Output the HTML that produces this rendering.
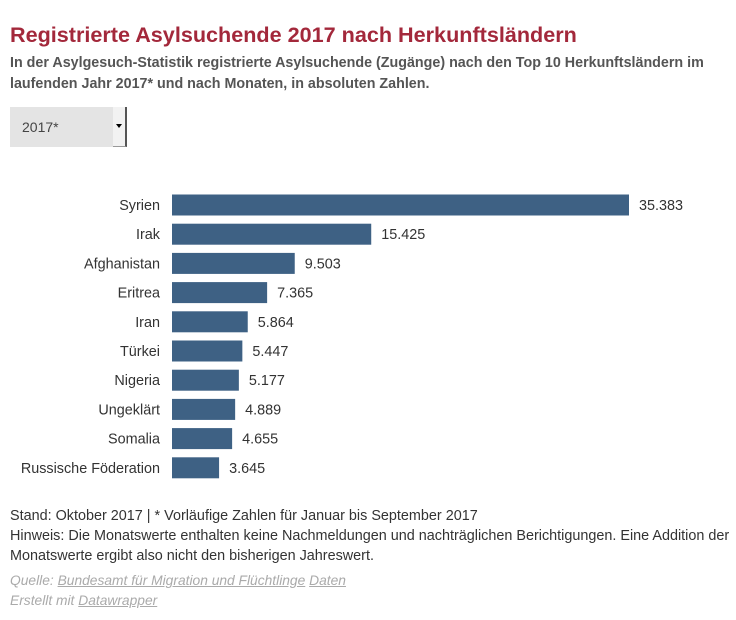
<!DOCTYPE html>
<html><head><meta charset="utf-8"><style>
body{margin:0;width:736px;height:620px;background:#fff;font-family:"Liberation Sans",Arial,sans-serif;color:#333;position:relative;overflow:hidden}
.t{position:absolute;left:10px;top:22px;font-size:21.6px;font-weight:bold;color:#a3283b;margin:0}
.s{position:absolute;left:10px;top:53px;font-size:14.3px;font-weight:bold;color:#555;line-height:21px;width:715px}
.dd{position:absolute;left:10px;top:107px;width:103px;height:40px;background:#e4e4e4;font-size:14px;color:#444;line-height:40px;padding-left:12px;box-sizing:border-box}
.ar{position:absolute;left:113px;top:107px;width:14px;height:40px;background:#f2f2f2;border-right:2px solid #555;border-bottom:1px solid #999;box-sizing:border-box}
.ar:after{content:"";position:absolute;left:3px;top:17px;border-left:3.5px solid transparent;border-right:3.5px solid transparent;border-top:4px solid #000}
.f{position:absolute;left:10px;top:506px;font-size:14.4px;line-height:20px;color:#333;width:725px}
.q{position:absolute;left:10px;top:571px;font-size:13.8px;line-height:20px;color:#aaa;font-style:italic}
.q a{color:#aaa;text-decoration:underline}
</style></head><body>
<h1 class="t">Registrierte Asylsuchende 2017 nach Herkunftsländern</h1>
<div class="s">In der Asylgesuch-Statistik registrierte Asylsuchende (Zugänge) nach den Top 10 Herkunftsländern im laufenden Jahr 2017* und nach Monaten, in absoluten Zahlen.</div>
<div class="dd">2017*</div>
<div class="ar"></div>
<svg id="c" width="736" height="620" style="position:absolute;left:0;top:0"></svg>
<div class="f">Stand: Oktober 2017 | * Vorläufige Zahlen für Januar bis September 2017<br>Hinweis: Die Monatswerte enthalten keine Nachmeldungen und nachträglichen Berichtigungen. Eine Addition der Monatswerte ergibt also nicht den bisherigen Jahreswert.</div>
<div class="q">Quelle: <a>Bundesamt für Migration und Flüchtlinge</a> <a>Daten</a><br>Erstellt mit <a>Datawrapper</a></div>
<script>
const categories=["Syrien","Irak","Afghanistan","Eritrea","Iran","Türkei","Nigeria","Ungeklärt","Somalia","Russische Föderation"];
const values=[35383,15425,9503,7365,5864,5447,5177,4889,4655,3645];
const valueLabels=["35.383","15.425","9.503","7.365","5.864","5.447","5.177","4.889","4.655","3.645"];
const svg=document.getElementById('c');const NS='http://www.w3.org/2000/svg';
const x0=172,x1=629,maxV=35383;
const xs=v=>x0+(v/maxV)*(x1-x0);
const ys=i=>205+i*29.2;
categories.forEach((c,i)=>{
 const y=ys(i);
 const r=document.createElementNS(NS,'rect');
 r.setAttribute('x',x0);r.setAttribute('y',y-10.5);r.setAttribute('width',xs(values[i])-x0);r.setAttribute('height',21);r.setAttribute('fill','#3e6184');
 
 
 svg.appendChild(r);
 const l=document.createElementNS(NS,'text');
 l.setAttribute('x',160);l.setAttribute('y',y+5);l.setAttribute('text-anchor','end');l.setAttribute('font-size','14.4');l.setAttribute('fill','#333');l.setAttribute('font-family','Liberation Sans, sans-serif');l.textContent=c;
 
 
 svg.appendChild(l);
 const v=document.createElementNS(NS,'text');
 v.setAttribute('x',xs(values[i])+10);v.setAttribute('y',y+5);v.setAttribute('font-size','14.4');v.setAttribute('fill','#333');v.setAttribute('font-family','Liberation Sans, sans-serif');v.textContent=valueLabels[i];
 
 
 svg.appendChild(v);
});
</script>
</body></html>
